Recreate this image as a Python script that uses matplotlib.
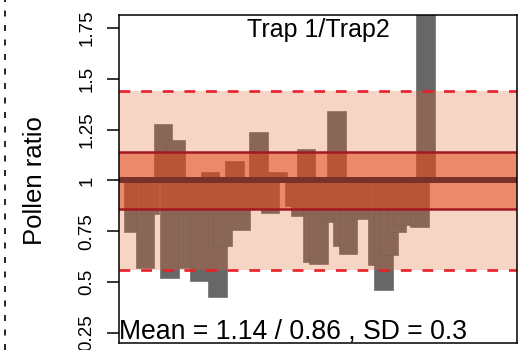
import matplotlib
matplotlib.use("Agg")
import matplotlib.pyplot as plt
from matplotlib.lines import Line2D

plt.rcParams['font.family'] = ['Liberation Sans', 'DejaVu Sans']

# ---- data ----
days = [5.6, 10.1, 12.0, 16.9, 19.2, 21.5, 26.0, 30.4, 34.7, 37.4, 39.4, 43.8,
        46.4, 50.6, 52.9, 57.4, 60.1, 66.5, 68.8, 71.0, 73.3, 75.6, 80.1, 82.4,
        84.7, 86.9, 91.1, 97.9, 100.2, 102.4, 105.1, 107.2, 113.8, 116.1]
ratios = [0.745, 0.567, 0.837, 1.28, 0.52, 1.20, 0.567, 0.506, 1.04, 0.428, 0.68, 1.095,
          0.755, 0.862, 1.24, 0.838, 1.04, 0.874, 0.823, 1.155, 0.597, 0.588, 0.794, 1.343,
          0.678, 0.637, 0.81, 0.585, 0.462, 0.632, 0.747, 0.78, 0.77, 2.05]
baseline = 1.0
upper_mean = 1.14
lower_mean = 0.86
sd = 0.3
yticks = [0.25, 0.5, 0.75, 1.0, 1.25, 1.5, 1.75]
ytick_labels = ["0.25", "0.5", "0.75", "1", "1.25", "1.5", "1.75"]
title = "Trap 1/Trap2"
ylabel = "Pollen ratio"
stats_text = "Mean = 1.14 / 0.86 , SD = 0.3"

fig = plt.figure(figsize=(5.18, 3.5), dpi=100)
ax = fig.add_axes([0.2288, 0.0186, 0.7687, 0.9386])

heights = [r - baseline for r in ratios]
ax.bar(days, heights, bottom=baseline, width=7.0, align='center',
       color='#676767', edgecolor='#5c5c5c', linewidth=0.4, zorder=1)

# bands
ax.axhspan(lower_mean - sd, upper_mean + sd, color=(229/255, 100/255, 41/255),
           alpha=0.27, lw=0, zorder=2)
ax.axhspan(lower_mean, upper_mean, color=(225/255, 70/255, 27/255),
           alpha=0.53, lw=0, zorder=3)
ax.axhline(baseline, color='#7a3228', lw=4.3, zorder=4)
ax.axhline(upper_mean, color='#a2191f', lw=1.8, zorder=4)
ax.axhline(lower_mean, color='#a2191f', lw=1.8, zorder=4)
ax.axhline(upper_mean + sd, color='#e8202a', lw=1.9, ls=(0, (4.1, 4.1)), zorder=4)
ax.axhline(lower_mean - sd, color='#e8202a', lw=1.9, ls=(0, (4.1, 4.1)), zorder=4)

ax.set_xlim(0, 150.66)
ax.set_ylim(0.198, 1.814)
ax.set_xticks([])
ax.set_yticks(yticks)
ax.set_yticklabels(ytick_labels, rotation=90, va='center', fontsize=13.5)
ax.tick_params(axis='y', length=8.3, width=1.1, pad=8.5, color='black')
for s in ax.spines.values():
    s.set_linewidth(1.1)
    s.set_color('black')
    s.set_zorder(6)

ax.text(0.5025, 0.933, title, transform=ax.transAxes, ha='center',
        va='baseline', fontsize=18, zorder=7)
ax.text(0.001, 0.0137, stats_text, transform=ax.transAxes, ha='left',
        va='baseline', fontsize=19.2, zorder=7)

fig.text(35/518, 1 - 181/350, ylabel, rotation=90, ha='center', va='center',
         fontsize=18.5)

fig.add_artist(Line2D([4.5/518, 4.5/518], [0, 1], transform=fig.transFigure,
                      color='black', lw=1.2, ls=(0, (3.6, 5.1))))

fig.savefig("out.png", dpi=100)
